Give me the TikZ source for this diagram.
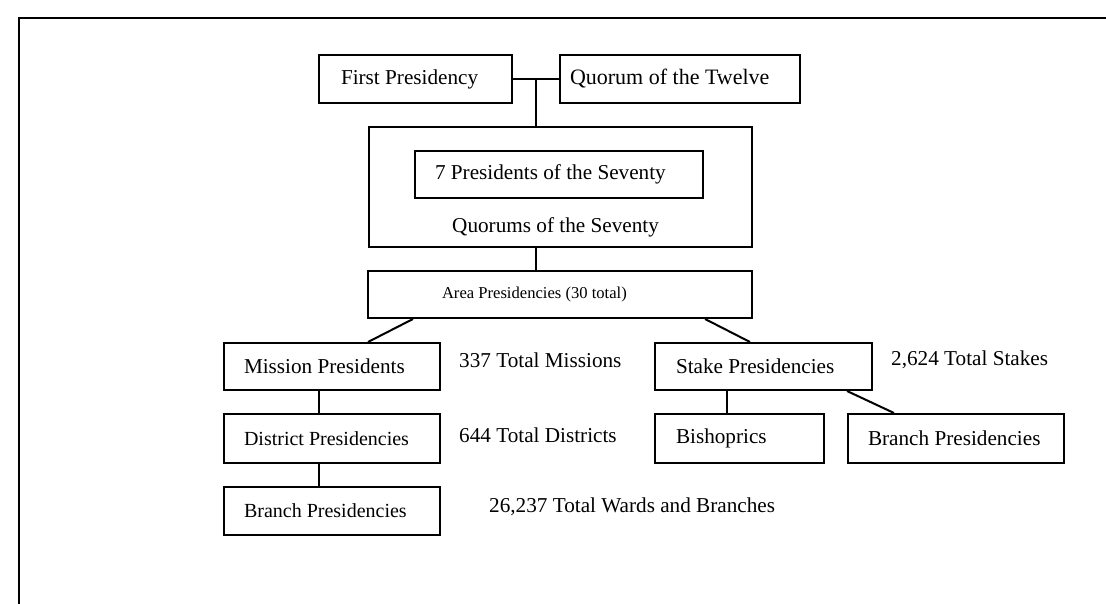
\documentclass[tikz,border=0pt]{standalone}
\usepackage{fontspec}
\setmainfont{Liberation Serif}
\usetikzlibrary{calc}
\begin{document}
\begin{tikzpicture}[x=1pt,y=-1pt,
  box/.style={draw, line width=2pt, inner ysep=0pt, align=flush left, anchor=north west, font=\fontsize{21.2}{25}\selectfont},
  sbox/.style={box, font=\fontsize{20}{24}\selectfont},
  lbl/.style={inner sep=0pt, anchor=west, font=\fontsize{21.2}{25}\selectfont},
  link/.style={line width=2pt},
  frame/.style={line width=2.4pt}]
\useasboundingbox (0,0) rectangle (1106,604);
\draw[frame] (19,606) -- (19,18) -- (1108,18);

% boxes
\node[box, minimum width=193pt, minimum height=48pt, inner xsep=22pt, text width=149pt] (fp) at (318,54) {First Presidency};
\node[box, minimum width=240pt, minimum height=48pt, inner xsep=10pt, text width=220pt, font=\fontsize{22}{26}\selectfont] (qt) at (559,54) {Quorum of the Twelve};
\node[box, minimum width=383pt, minimum height=120pt, inner sep=0pt] (qs) at (368,126) {};
\node[box, minimum width=288pt, minimum height=47pt, inner xsep=20pt, text width=248pt] (p7) at (414,150) {7 Presidents of the Seventy};
\node[lbl] (qsl) at (452,227) {Quorums of the Seventy};
\node[box, minimum width=384pt, minimum height=47pt, inner xsep=74pt, text width=236pt, font=\fontsize{16.6}{20}\selectfont] (ap) at (367,270) {Area Presidencies (30 total)};
\node[box, minimum width=216pt, minimum height=47pt, inner xsep=20pt, text width=176pt] (mp) at (223,342) {Mission Presidents};
\node[sbox, minimum width=216pt, minimum height=49pt, inner xsep=20pt, text width=176pt] (dp) at (223,413) {District Presidencies};
\node[sbox, minimum width=216pt, minimum height=48pt, inner xsep=20pt, text width=176pt] (bpl) at (223,486) {Branch Presidencies};
\node[box, minimum width=217pt, minimum height=47pt, inner xsep=21pt, text width=175pt] (stp) at (654,342) {Stake Presidencies};
\node[box, minimum width=169pt, minimum height=49pt, inner xsep=21pt, text width=127pt] (bi) at (654,413) {Bishoprics};
\node[box, minimum width=216pt, minimum height=49pt, inner xsep=20pt, text width=176pt] (bpr) at (847,413) {Branch Presidencies};

% side labels
\node[lbl] (m337) at (459,360) {337 Total Missions};
\node[lbl] (d644) at (459,435) {644 Total Districts};
\node[lbl] (w26) at (489,507) {26,237 Total Wards and Branches};
\node[lbl] (s2624) at (891,360) {2,624 Total Stakes};

% connectors
\coordinate (j) at ($(fp.east)!0.5!(qt.west)$);
\draw[link] (fp.east) -- (qt.west);
\draw[link] (j) -- (j |- qs.north);
\draw[link] (j |- qs.south) -- (j |- ap.north);
\draw[link] ($(ap.south west)+(46,0)$) -- ($(mp.north west)+(145,0)$);
\draw[link] ($(ap.south east)+(-48,0)$) -- ($(stp.north west)+(96,0)$);
\draw[link] ($(mp.south west)+(96,0)$) -- ($(dp.north west)+(96,0)$);
\draw[link] ($(dp.south west)+(96,0)$) -- ($(bpl.north west)+(96,0)$);
\draw[link] ($(stp.south west)+(73,0)$) -- ($(bi.north west)+(73,0)$);
\draw[link] ($(stp.south west)+(193,0)$) -- ($(bpr.north west)+(47,0)$);
\end{tikzpicture}
\end{document}
